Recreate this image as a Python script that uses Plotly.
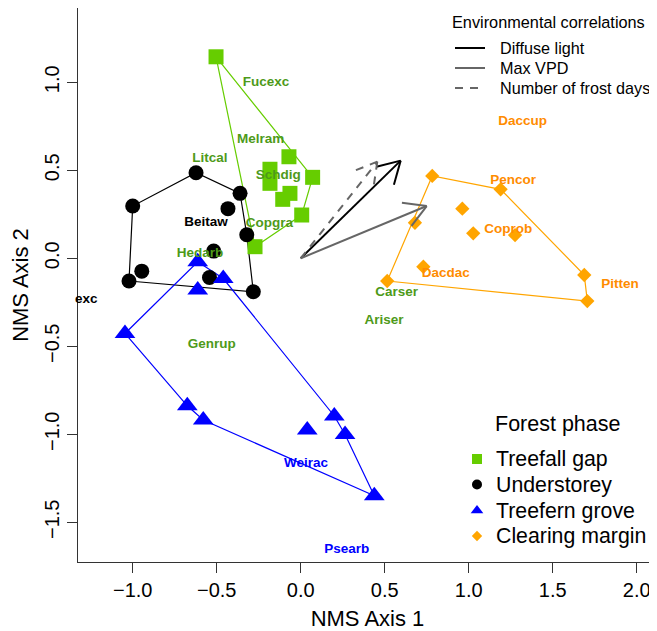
import math
import plotly.graph_objects as go

# ---------------- data ----------------
gap_x = [-0.504, -0.070, 0.071, -0.183, -0.183, -0.064, -0.107, 0.006, -0.272]
gap_y = [1.145, 0.577, 0.460, 0.506, 0.426, 0.369, 0.335, 0.246, 0.066]

und_x = [-0.623, -0.361, -1.000, -0.433, -0.321, -0.518, -0.946, -1.022, -0.543, -0.282]
und_y = [0.486, 0.369, 0.297, 0.282, 0.134, 0.041, -0.073, -0.129, -0.109, -0.190]

fern_x = [-0.613, -0.461, -0.613, -1.046, -0.675, -0.580, 0.039, 0.200, 0.264, 0.438]
fern_y = [-0.020, -0.115, -0.180, -0.427, -0.838, -0.919, -0.976, -0.896, -1.001, -1.349]

clear_x = [0.783, 1.190, 0.962, 0.680, 1.027, 1.276, 0.730, 0.515, 1.688, 1.706]
clear_y = [0.468, 0.392, 0.282, 0.202, 0.142, 0.132, -0.048, -0.129, -0.095, -0.243]

species = ["Fucexc", "Melram", "Litcal", "Schdig", "Beitaw", "Copgra", "Hedarb",
           "Daccup", "Pencor", "Coprob", "Dacdac", "Pitten", "Carser", "Ariser",
           "Genrup", "Weirac", "Psearb"]
species_x = [-0.207, -0.238, -0.540, -0.133, -0.564, -0.187, -0.599,
             1.321, 1.265, 1.236, 0.863, 1.901, 0.571, 0.496,
             -0.530, 0.032, 0.274]
species_y = [1.000, 0.672, 0.564, 0.469, 0.205, 0.195, 0.024,
             0.776, 0.441, 0.161, -0.085, -0.148, -0.193, -0.356,
             -0.489, -1.165, -1.657]
species_group = ["gap", "gap", "gap", "gap", "und", "gap", "gap",
                 "clear", "clear", "clear", "clear", "clear", "gap", "gap",
                 "gap", "fern", "fern"]

env_names = ["Diffuse light", "Max VPD", "Number of frost days"]
env_x = [0.595, 0.750, 0.456]
env_y = [0.555, 0.297, 0.549]

phase_names = ["Treefall gap", "Understorey", "Treefern grove", "Clearing margin"]

x_tickvals = [-1.0, -0.5, 0.0, 0.5, 1.0, 1.5, 2.0]
y_tickvals = [-1.5, -1.0, -0.5, 0.0, 0.5, 1.0]

# ---------------- styles ----------------
# the page body has an 8px margin, so the figure is drawn 8px right/down
OFF = 8
W, H = 657 - OFF, 631 - OFF
ML, MR, MT, MB = 78 - OFF, 0, 0, 69
X_RANGE = [-1.3256, 2.1208]
Y_RANGE = [-1.7256, 1.4222]
FONT = "Liberation Sans, Arial, sans-serif"

pt_color = {"gap": "#66CD00", "und": "#000000", "fern": "#0000FF", "clear": "#FFA500"}
lab_color = {"gap": "#4E9A1A", "und": "#000000", "fern": "#0000FF", "clear": "#FF8C00"}
symbols = {"gap": "square", "und": "circle", "fern": "triangle-up", "clear": "diamond"}
sizes = {"gap": 15, "und": 15, "fern": 18, "clear": 11}
leg_sizes = {"gap": 10, "und": 10, "fern": 11, "clear": 8}
env_color = ["#000000", "#666666", "#666666"]
env_dash = ["solid", "solid", "8px,7px"]

groups = [("gap", gap_x, gap_y), ("und", und_x, und_y),
          ("fern", fern_x, fern_y), ("clear", clear_x, clear_y)]


def hull(xs, ys):
    pts = sorted(set(zip(xs, ys)))
    if len(pts) < 3:
        return pts

    def cross(o, a, b):
        return (a[0] - o[0]) * (b[1] - o[1]) - (a[1] - o[1]) * (b[0] - o[0])

    lower, upper = [], []
    for p in pts:
        while len(lower) >= 2 and cross(lower[-2], lower[-1], p) <= 0:
            lower.pop()
        lower.append(p)
    for p in reversed(pts):
        while len(upper) >= 2 and cross(upper[-2], upper[-1], p) <= 0:
            upper.pop()
        upper.append(p)
    h = lower[:-1] + upper[:-1]
    return h + [h[0]]


fig = go.Figure()

# hulls
for g, xs, ys in groups:
    h = hull(xs, ys)
    fig.add_trace(go.Scatter(x=[p[0] for p in h], y=[p[1] for p in h], mode="lines",
                             line=dict(color=pt_color[g], width=1.2),
                             hoverinfo="skip", showlegend=False))

# points
for g, xs, ys in groups:
    fig.add_trace(go.Scatter(x=xs, y=ys, mode="markers",
                             marker=dict(symbol=symbols[g], size=sizes[g], color=pt_color[g],
                                         line=dict(width=0)),
                             showlegend=False))

# environmental arrows (head computed in pixel space)
plot_w = W - ML - MR
plot_h = H - MT - MB
sx = plot_w / (X_RANGE[1] - X_RANGE[0])
sy = plot_h / (Y_RANGE[1] - Y_RANGE[0])
HEAD = 25.0
for i in range(len(env_names)):
    tx, ty = env_x[i], env_y[i]
    th = math.atan2(ty * sy, tx * sx)
    xs = [0, tx, None]
    ys = [0, ty, None]
    for d in (math.pi / 6, -math.pi / 6):
        a = th + math.pi + d
        xs += [tx, tx + HEAD * math.cos(a) / sx, None]
        ys += [ty, ty + HEAD * math.sin(a) / sy, None]
    fig.add_trace(go.Scatter(x=xs, y=ys, mode="lines",
                             line=dict(color=env_color[i], width=2, dash=env_dash[i]),
                             hoverinfo="skip", showlegend=False))

# species labels
fig.add_trace(go.Scatter(x=species_x, y=species_y, mode="text", text=species,
                         textposition="middle center",
                         textfont=dict(family=FONT, size=13.5, weight="bold",
                                       color=[lab_color[g] for g in species_group]),
                         showlegend=False, hoverinfo="skip"))

# ---------------- legends on a pixel overlay axis (screen pixel coords) ----------------
# Environmental correlations
fig.add_annotation(xref="x2", yref="y2", x=548, y=22, text="Environmental correlations",
                   showarrow=False, xanchor="center", yanchor="middle",
                   font=dict(family=FONT, size=16.3, color="black"))
env_leg_y = [48, 68, 88]
for i in range(len(env_names)):
    fig.add_trace(go.Scatter(x=[455, 485], y=[env_leg_y[i], env_leg_y[i]], mode="lines",
                             xaxis="x2", yaxis="y2",
                             line=dict(color=env_color[i], width=2, dash=env_dash[i]),
                             hoverinfo="skip", showlegend=False, cliponaxis=False))
    fig.add_annotation(xref="x2", yref="y2", x=498, y=env_leg_y[i], text=env_names[i],
                       showarrow=False, xanchor="left", yanchor="middle",
                       font=dict(family=FONT, size=16.2, color="black"))

# Forest phase
fig.add_annotation(xref="x2", yref="y2", x=557, y=424, text="Forest phase",
                   showarrow=False, xanchor="center", yanchor="middle",
                   font=dict(family=FONT, size=21.5, color="black"))
phase_leg_y = [459, 484.5, 510.5, 536]
for i, (g, _, _) in enumerate(groups):
    fig.add_trace(go.Scatter(x=[477], y=[phase_leg_y[i]], mode="markers",
                             xaxis="x2", yaxis="y2",
                             marker=dict(symbol=symbols[g], size=leg_sizes[g], color=pt_color[g],
                                         line=dict(width=0)),
                             hoverinfo="skip", showlegend=False, cliponaxis=False))
    fig.add_annotation(xref="x2", yref="y2", x=494, y=phase_leg_y[i], text=phase_names[i],
                       showarrow=False, xanchor="left", yanchor="middle",
                       font=dict(family=FONT, size=21.3, color="black"))

# partially clipped label at the left edge
fig.add_annotation(xref="x2", yref="y2", x=86, y=298, text="exc", showarrow=False,
                   xanchor="center", yanchor="middle",
                   font=dict(family=FONT, size=13.5, weight="bold", color="black"))

fig.update_layout(
    width=W, height=H,
    margin=dict(l=ML, r=MR, t=MT, b=MB, pad=0),
    paper_bgcolor="white", plot_bgcolor="white",
    showlegend=False,
    font=dict(family=FONT, color="black"),
    xaxis=dict(range=X_RANGE, tickvals=x_tickvals,
               ticktext=[f"{v:.1f}".replace("-", "\u2212") for v in x_tickvals],
               ticks="outside", ticklen=10, tickwidth=1.2, tickcolor="#333",
               showline=True, linecolor="#333", linewidth=1.2, mirror=True,
               showgrid=False, zeroline=False,
               tickfont=dict(family=FONT, size=20, color="black"),
               title=dict(text="NMS Axis 1", font=dict(family=FONT, size=22, color="black"),
                          standoff=11)),
    yaxis=dict(range=Y_RANGE, tickvals=y_tickvals,
               ticktext=[f"{v:.1f}".replace("-", "\u2212") for v in y_tickvals],
               tickangle=-90,
               ticks="outside", ticklen=10, tickwidth=1.2, tickcolor="#333",
               showline=True, linecolor="#333", linewidth=1.2, mirror=False,
               showgrid=False, zeroline=False,
               tickfont=dict(family=FONT, size=20, color="black"),
               title=dict(text="NMS Axis 2", font=dict(family=FONT, size=22, color="black"),
                          standoff=8)),
    xaxis2=dict(range=[78, 657], overlaying="x", anchor="y2", visible=False,
                fixedrange=True),
    yaxis2=dict(range=[562, 8], overlaying="y", anchor="x2", visible=False,
                fixedrange=True),
)

fig.write_html("out.html")
